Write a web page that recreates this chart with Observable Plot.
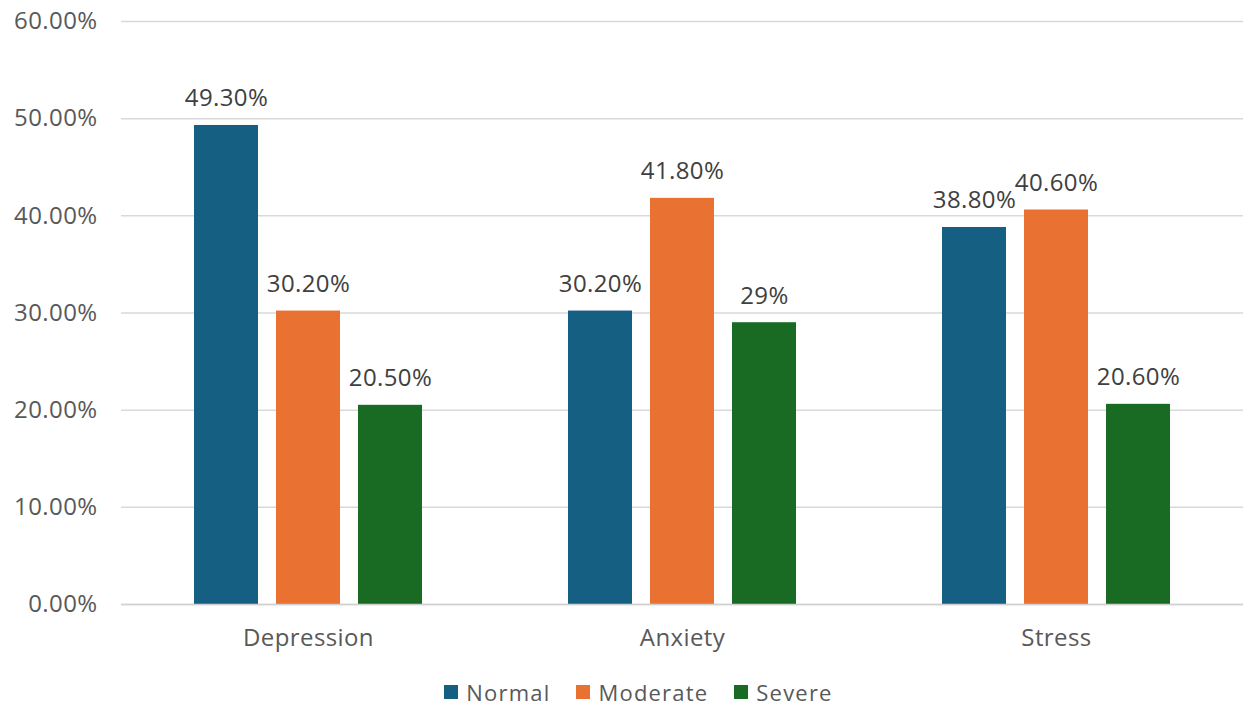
<!DOCTYPE html>
<html>
<head>
<meta charset="utf-8">
<script src="https://cdn.jsdelivr.net/npm/d3@7"></script>
<script src="https://cdn.jsdelivr.net/npm/@observablehq/plot@0.6"></script>
<style>
  html, body { margin: 0; background: #fff; font-family: "Open Sans", sans-serif; overflow: hidden; }
  #chart svg { display: block; }
  #legend { position: absolute; left: 0; top: 681px; width: 1243px; display: flex; justify-content: center; gap: 26px; font-size: 22px; line-height: 22px; letter-spacing: 1.2px; color: #595959; padding-left: 34px; box-sizing: border-box; }
  #legend .item { display: flex; align-items: center; gap: 8px; }
  #legend .sw { width: 14px; height: 14px; display: inline-block; }
  svg text { letter-spacing: 0.4px; }
</style>
</head>
<body>
<div id="chart"></div>
<div id="legend"></div>
<script>
const categories = ["Depression", "Anxiety", "Stress"];
const seriesNames = ["Normal", "Moderate", "Severe"];
const colors = ["#156082", "#E97132", "#196B24"];
const normal = [49.3, 30.2, 38.8];
const moderate = [30.2, 41.8, 40.6];
const severe = [20.5, 29.0, 20.6];
const labelsNormal = ["49.30%", "30.20%", "38.80%"];
const labelsModerate = ["30.20%", "41.80%", "40.60%"];
const labelsSevere = ["20.50%", "29%", "20.60%"];
const yTicks = [0, 10, 20, 30, 40, 50, 60];

const seriesValues = [normal, moderate, severe];
const seriesLabels = [labelsNormal, labelsModerate, labelsSevere];
const data = [];
categories.forEach((c, i) => {
  seriesNames.forEach((s, j) => {
    data.push({category: c, series: s, value: seriesValues[j][i], label: seriesLabels[j][i]});
  });
});

const chart = Plot.plot({
  width: 1243,
  height: 680,
  marginLeft: 120,
  marginRight: 0,
  marginTop: 21,
  marginBottom: 76,
  style: {fontFamily: "'Open Sans', sans-serif", fontSize: "24px", color: "#595959", background: "#fff"},
  fx: {domain: categories, padding: 0, axis: "bottom", label: null, tickSize: 0, tickPadding: 24},
  x: {domain: seriesNames, paddingInner: 0.217, paddingOuter: 0.864, axis: null},
  y: {domain: [0, 60], ticks: yTicks, tickFormat: d => d.toFixed(2) + "%", tickSize: 0, tickPadding: 24, label: null},
  color: {domain: seriesNames, range: colors},
  marks: [
    Plot.gridY(yTicks, {stroke: "#d9d9d9", strokeOpacity: 1, strokeWidth: 1.5}),
    Plot.barY(data, {fx: "category", x: "series", y: "value", fill: "series"}),
    Plot.ruleY([0], {stroke: "#d0d0d0", strokeWidth: 1.5}),
    Plot.text(data, {fx: "category", x: "series", y: "value", text: "label", dy: -19, lineAnchor: "bottom", fill: "#404040", fontSize: 24})
  ]
});
document.getElementById("chart").appendChild(chart);

const legend = document.getElementById("legend");
seriesNames.forEach((s, i) => {
  const item = document.createElement("div");
  item.className = "item";
  const sw = document.createElement("span");
  sw.className = "sw";
  sw.style.background = colors[i];
  const t = document.createElement("span");
  t.textContent = s;
  item.appendChild(sw);
  item.appendChild(t);
  legend.appendChild(item);
});
</script>
</body>
</html>
